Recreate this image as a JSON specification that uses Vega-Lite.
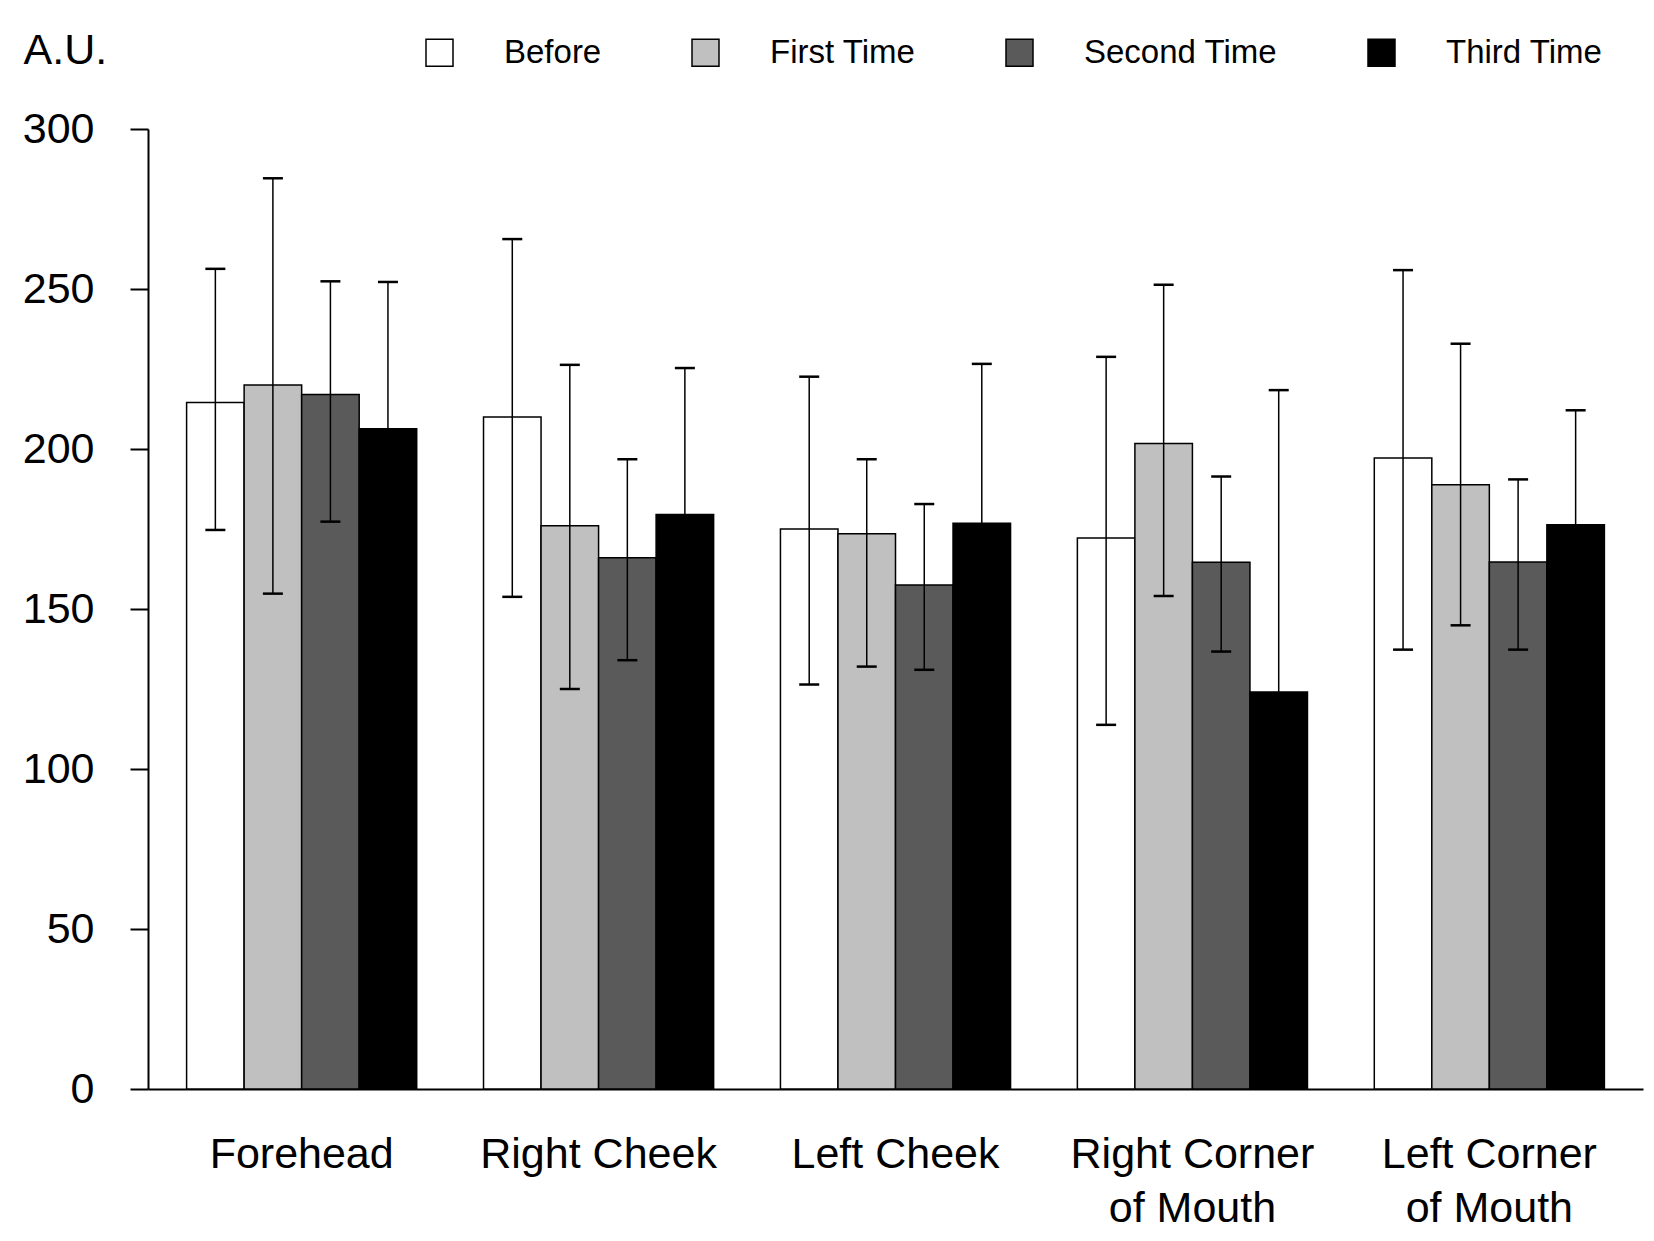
{
  "$schema": "https://vega.github.io/schema/vega-lite/v6.json",
  "width": 1495,
  "height": 960,
  "autosize": "none",
  "padding": {"left": 148, "top": 129, "right": 11, "bottom": 152},
  "background": "white",
  "config": {"view": {"stroke": null}, "font": "Liberation Sans"},
  "data": {
    "values": [
      {"region": "Forehead", "time": "Before", "mean": 214.5, "lo": 174.7, "hi": 256.3},
      {"region": "Forehead", "time": "First Time", "mean": 220, "lo": 154.8, "hi": 284.6},
      {"region": "Forehead", "time": "Second Time", "mean": 217, "lo": 177.3, "hi": 252.4},
      {"region": "Forehead", "time": "Third Time", "mean": 206.3, "lo": 160, "hi": 252.2},
      {"region": "Right Cheek", "time": "Before", "mean": 210, "lo": 153.8, "hi": 265.6},
      {"region": "Right Cheek", "time": "First Time", "mean": 176, "lo": 125, "hi": 226.3},
      {"region": "Right Cheek", "time": "Second Time", "mean": 166, "lo": 134, "hi": 196.8},
      {"region": "Right Cheek", "time": "Third Time", "mean": 179.5, "lo": 133, "hi": 225.3},
      {"region": "Left Cheek", "time": "Before", "mean": 175, "lo": 126.4, "hi": 222.6},
      {"region": "Left Cheek", "time": "First Time", "mean": 173.5, "lo": 132, "hi": 196.8},
      {"region": "Left Cheek", "time": "Second Time", "mean": 157.5, "lo": 131, "hi": 182.8},
      {"region": "Left Cheek", "time": "Third Time", "mean": 176.8, "lo": 127, "hi": 226.6},
      {"region": "Right Corner of Mouth", "time": "Before", "mean": 172.2, "lo": 113.8, "hi": 228.8},
      {"region": "Right Corner of Mouth", "time": "First Time", "mean": 201.7, "lo": 154.1, "hi": 251.3},
      {"region": "Right Corner of Mouth", "time": "Second Time", "mean": 164.6, "lo": 136.7, "hi": 191.4},
      {"region": "Right Corner of Mouth", "time": "Third Time", "mean": 124.1, "lo": 30, "hi": 218.4},
      {"region": "Left Corner of Mouth", "time": "Before", "mean": 197.2, "lo": 137.3, "hi": 255.9},
      {"region": "Left Corner of Mouth", "time": "First Time", "mean": 188.8, "lo": 144.9, "hi": 232.9},
      {"region": "Left Corner of Mouth", "time": "Second Time", "mean": 164.7, "lo": 137.3, "hi": 190.5},
      {"region": "Left Corner of Mouth", "time": "Third Time", "mean": 176.3, "lo": 140.5, "hi": 212.1}
    ]
  },
  "encoding": {
    "x": {
      "field": "region",
      "type": "nominal",
      "sort": ["Forehead", "Right Cheek", "Left Cheek", "Right Corner of Mouth", "Left Corner of Mouth"],
      "scale": {"paddingInner": 0.225, "paddingOuter": 0.13},
      "title": null,
      "axis": {
        "labelAngle": 0,
        "ticks": false,
        "domainColor": "black",
        "domainWidth": 2,
        "labelFont": "Liberation Sans",
        "labelFontSize": 43,
        "labelColor": "black",
        "labelPadding": 44,
        "labelLimit": 0,
        "labelLineHeight": 54,
        "labelBaseline": "top",
        "labelExpr": "datum.value == 'Right Corner of Mouth' ? ['Right Corner', 'of Mouth'] : datum.value == 'Left Corner of Mouth' ? ['Left Corner', 'of Mouth'] : datum.value"
      }
    },
    "xOffset": {
      "field": "time",
      "type": "nominal",
      "sort": ["Before", "First Time", "Second Time", "Third Time"],
      "scale": {"paddingInner": 0, "paddingOuter": 0}
    }
  },
  "layer": [
    {
      "mark": {"type": "bar", "stroke": "black", "strokeWidth": 1.5, "opacity": 1},
      "encoding": {
        "y": {
          "field": "mean",
          "type": "quantitative",
          "scale": {"domain": [0, 300], "nice": false},
          "axis": {
            "values": [0, 50, 100, 150, 200, 250, 300],
            "grid": false,
            "tickSize": 18,
            "tickWidth": 2,
            "tickColor": "black",
            "domainColor": "black",
            "domainWidth": 2,
            "labelFont": "Liberation Sans",
            "labelFontSize": 43,
            "labelColor": "black",
            "labelPadding": 36,
            "title": "A.U.",
            "titleAngle": 0,
            "titleAlign": "left",
            "titleBaseline": "alphabetic",
            "titleX": -125,
            "titleY": -66,
            "titleFont": "Liberation Sans",
            "titleFontSize": 43,
            "titleFontWeight": "normal",
            "titleColor": "black"
          }
        },
        "fill": {
          "field": "time",
          "type": "nominal",
          "sort": ["Before", "First Time", "Second Time", "Third Time"],
          "scale": {"domain": ["Before", "First Time", "Second Time", "Third Time"], "range": ["#ffffff", "#c0c0c0", "#5a5a5a", "#000000"]},
          "legend": {
            "orient": "none",
            "legendX": 275,
            "legendY": -93,
            "direction": "horizontal",
            "title": null,
            "symbolType": "square",
            "symbolSize": 729,
            "symbolStrokeColor": "black",
            "symbolStrokeWidth": 1.5,
            "symbolOpacity": 1,
            "labelFont": "Liberation Sans",
            "labelFontSize": 33,
            "labelColor": "black",
            "labelOffset": 48,
            "labelLimit": 0,
            "columnPadding": 87,
            "padding": 0
          }
        }
      }
    },
    {
      "mark": {"type": "rule", "color": "black", "strokeWidth": 1.5},
      "encoding": {
        "y": {"field": "lo", "type": "quantitative"},
        "y2": {"field": "hi"}
      }
    },
    {
      "mark": {"type": "tick", "color": "black", "thickness": 2.5, "size": 20, "opacity": 1},
      "encoding": {"y": {"field": "hi", "type": "quantitative"}}
    },
    {
      "mark": {"type": "tick", "color": "black", "thickness": 2.5, "size": 20, "opacity": 1},
      "encoding": {"y": {"field": "lo", "type": "quantitative"}}
    }
  ]
}
